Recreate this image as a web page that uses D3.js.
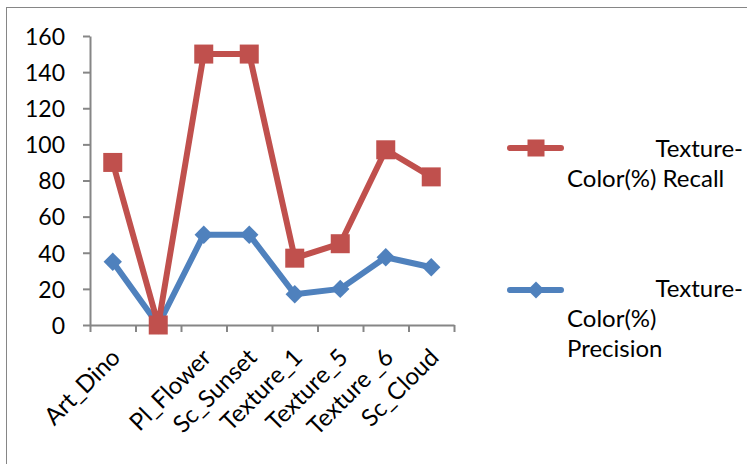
<!DOCTYPE html>
<html><head><meta charset="utf-8">
<script src="https://cdn.jsdelivr.net/npm/d3@7"></script>
<style>
html,body{margin:0;padding:0;background:#fff;}
svg{display:block;}
text{font-family:Lato,"Open Sans",sans-serif;fill:#000;}
</style></head>
<body>
<svg id="chart" width="747" height="464"></svg>
<script>
const categories = ["Art_Dino", "", "Pl_Flower", "Sc_Sunset", "Texture_1", "Texture_5", "Texture _6", "Sc_Cloud"];
const recall = [90, 0, 150, 150, 37, 45, 97, 82];
const precision = [35, 0, 50, 50, 17, 20, 37.5, 32];
const yTicks = [0, 20, 40, 60, 80, 100, 120, 140, 160];
const seriesNames = ["Texture-Color(%) Recall", "Texture-Color(%) Precision"];

(function () {
const svg = d3.select("#chart");
const red = "#C0504D", blue = "#4F81BD", axisCol = "#868686";

svg.append("rect").attr("x", 6.5).attr("y", 7.5).attr("width", 800).attr("height", 500)
  .attr("fill", "none").attr("stroke", axisCol).attr("stroke-width", 1);

const pLeft = 90, pRight = 454, pTop = 36, pBottom = 325;
const y = d3.scaleLinear().domain([0, 160]).range([pBottom, pTop]);
const x = d3.scaleBand().domain(d3.range(categories.length)).range([pLeft, pRight]);
const xb = d3.scaleLinear().domain([0, categories.length]).range([pLeft, pRight]);

const gy = svg.append("g").attr("transform", `translate(${pLeft},0)`)
  .call(d3.axisLeft(y).tickValues(yTicks).tickSize(7).tickPadding(18).tickSizeOuter(0));
gy.select(".domain").attr("stroke", axisCol).attr("stroke-width", 2);
gy.selectAll(".tick line").attr("stroke", axisCol).attr("stroke-width", 2);
gy.selectAll(".tick text").attr("font-size", 23).attr("font-family", "Lato").attr("fill", "#000").attr("dy", "0.36em");

const gx = svg.append("g").attr("transform", `translate(0,${pBottom})`)
  .call(d3.axisBottom(xb).tickValues(d3.range(categories.length + 1)).tickSize(7).tickFormat("").tickSizeOuter(0));
gx.select(".domain").attr("stroke", axisCol).attr("stroke-width", 2);
gx.selectAll(".tick line").attr("stroke", axisCol).attr("stroke-width", 2);

svg.append("g").selectAll("text").data(categories).join("text")
  .attr("transform", (d, i) => `translate(${x(i) + x.bandwidth() / 2 + 9},${pBottom + 34}) rotate(-45)`)
  .attr("text-anchor", "end").attr("font-size", 24).text(d => d);

const line = d3.line().x((d, i) => x(i) + x.bandwidth() / 2).y(d => y(d));

svg.append("path").datum(precision).attr("d", line).attr("fill", "none")
  .attr("stroke", blue).attr("stroke-width", 6).attr("stroke-linejoin", "round");
svg.append("g").selectAll("path").data(precision).join("path")
  .attr("transform", (d, i) => `translate(${x(i) + x.bandwidth() / 2},${y(d)}) rotate(45)`)
  .attr("d", "M-6.5,-6.5H6.5V6.5H-6.5Z").attr("fill", blue);

svg.append("path").datum(recall).attr("d", line).attr("fill", "none")
  .attr("stroke", red).attr("stroke-width", 6).attr("stroke-linejoin", "round");
svg.append("g").selectAll("rect").data(recall).join("rect")
  .attr("x", (d, i) => x(i) + x.bandwidth() / 2 - 9.5).attr("y", d => y(d) - 9.5)
  .attr("width", 19).attr("height", 19).attr("fill", red);

const lg = svg.append("g");
lg.append("line").attr("x1", 510).attr("x2", 561).attr("y1", 148).attr("y2", 148)
  .attr("stroke", red).attr("stroke-width", 6).attr("stroke-linecap", "round");
lg.append("rect").attr("x", 536 - 8.5).attr("y", 148 - 8.5).attr("width", 17).attr("height", 17).attr("fill", red);
lg.append("text").attr("x", 743).attr("y", 157).attr("text-anchor", "end").attr("font-size", 24).text("Texture-");
lg.append("text").attr("x", 567).attr("y", 187).attr("font-size", 24).text("Color(%) Recall");
lg.append("line").attr("x1", 510).attr("x2", 561).attr("y1", 290).attr("y2", 290)
  .attr("stroke", blue).attr("stroke-width", 6).attr("stroke-linecap", "round");
lg.append("path").attr("transform", "translate(536,290) rotate(45)")
  .attr("d", "M-6,-6H6V6H-6Z").attr("fill", blue);
lg.append("text").attr("x", 743).attr("y", 297).attr("text-anchor", "end").attr("font-size", 24).text("Texture-");
lg.append("text").attr("x", 567).attr("y", 327).attr("font-size", 24).text("Color(%)");
lg.append("text").attr("x", 567).attr("y", 357).attr("font-size", 24).text("Precision");
})();
</script>
</body></html>
